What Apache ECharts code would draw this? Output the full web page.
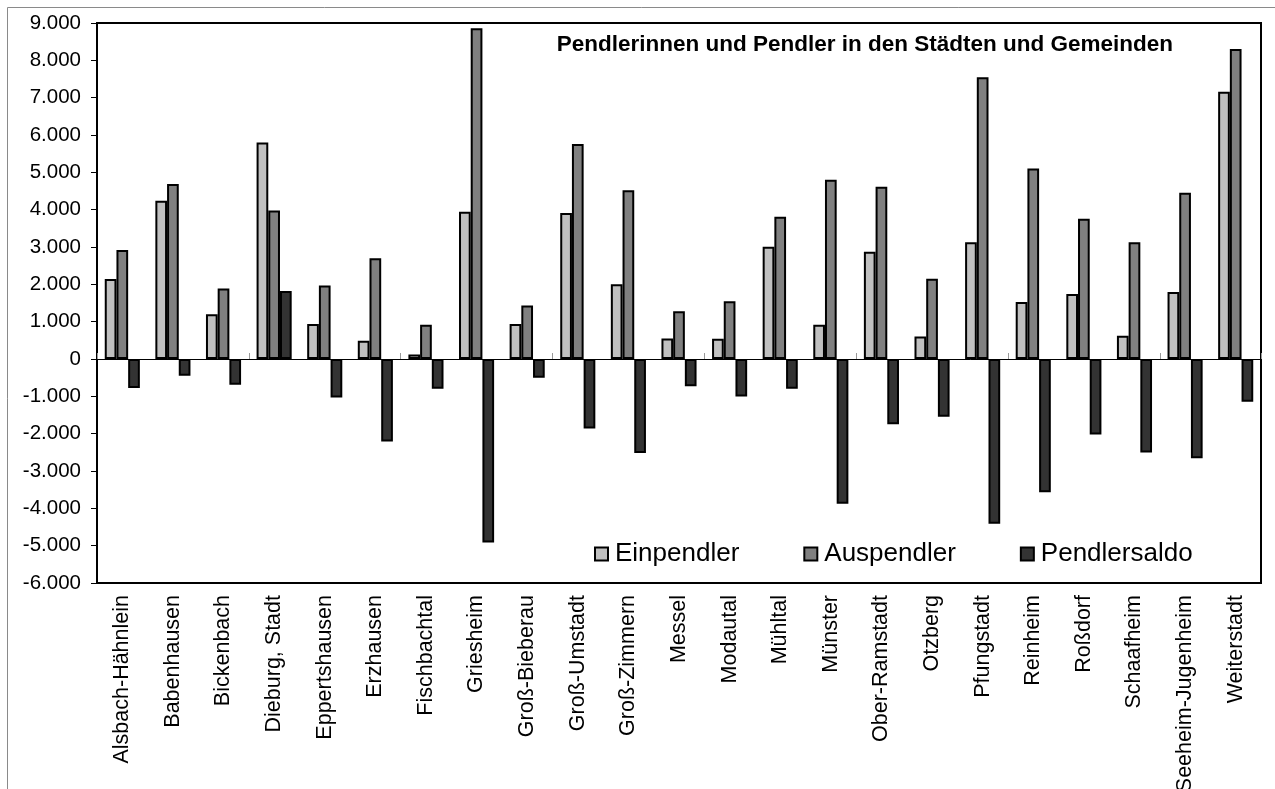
<!DOCTYPE html>
<html>
<head>
<meta charset="utf-8">
<script src="https://cdn.jsdelivr.net/npm/echarts@6/dist/echarts.min.js"></script>
<style>
html,body{margin:0;padding:0;background:#fff;}
#chart{width:1275px;height:789px;}
</style>
</head>
<body>
<div id="chart"></div>
<script>
var categories = ["Alsbach-Hähnlein","Babenhausen","Bickenbach","Dieburg, Stadt","Eppertshausen","Erzhausen","Fischbachtal","Griesheim","Groß-Bieberau","Groß-Umstadt","Groß-Zimmern","Messel","Modautal","Mühltal","Münster","Ober-Ramstadt","Otzberg","Pfungstadt","Reinheim","Roßdorf","Schaafheim","Seeheim-Jugenheim","Weiterstadt"];
var einpendler = [2140,4240,1200,5800,940,490,120,3945,940,3910,2000,550,545,3010,920,2870,600,3130,1530,1740,625,1795,7160];
var auspendler = [2920,4690,1890,3980,1970,2700,920,8860,1430,5760,4520,1280,1550,3810,4800,4615,2150,7545,5100,3760,3130,4455,8305];
var pendlersaldo = [-780,-450,-690,1820,-1030,-2210,-800,-4915,-500,-1860,-2520,-730,-1005,-800,-3880,-1745,-1550,-4415,-3570,-2020,-2505,-2660,-1145];
var seriesNames = ["Einpendler","Auspendler","Pendlersaldo"];
var titleText = "Pendlerinnen und Pendler in den Städten und Gemeinden";

function fmt(v){
  var s = String(Math.abs(v)).replace(/\B(?=(\d{3})+(?!\d))/g, '.');
  return (v < 0 ? '-' : '') + s;
}

var chart = echarts.init(document.getElementById('chart'), null, {renderer:'canvas'});
var font = 'Liberation Sans, Arial, sans-serif';
var barStyle = function(c){ return {color:c, borderColor:'#000', borderWidth:2}; };
chart.setOption({
  animation:false,
  backgroundColor:'#fff',
  textStyle:{fontFamily:font},
  title:{
    text:titleText, right:102, top:33, padding:0,
    textStyle:{fontFamily:font, fontWeight:'bold', fontSize:22.5, color:'#000'}
  },
  legend:{
    data:seriesNames, left:594, top:541, padding:0,
    itemWidth:13, itemHeight:13, itemGap:64, icon:'rect',
    itemStyle:{borderColor:'#000', borderWidth:2},
    textStyle:{fontFamily:font, fontSize:26, color:'#000', padding:[0,0,0,2]}
  },
  grid:{left:97, right:14, top:23, bottom:206, show:true, borderColor:'#000', borderWidth:2, backgroundColor:'transparent', containLabel:false, outerBoundsMode:'none'},
  graphic:[{
    type:'rect', silent:true, z:-1,
    shape:{x:7.5, y:7.5, width:1400, height:900},
    style:{fill:'none', stroke:'#8a8a8a', lineWidth:1}
  }],
  xAxis:[{
    type:'category', data:categories, position:'bottom',
    axisLine:{show:false, onZero:false}, axisTick:{show:false},
    axisLabel:{rotate:90, margin:12, fontSize:21.5, color:'#000', fontFamily:font, interval:0, hideOverlap:false}
  },{
    type:'category', data:categories, position:'bottom',
    axisLine:{show:true, onZero:true, lineStyle:{color:'#000', width:1}},
    axisTick:{show:true, inside:true, length:6, lineStyle:{color:'#999', width:1}},
    axisLabel:{show:false}
  }],
  yAxis:{
    type:'value', min:-6000, max:9000, interval:1000,
    axisLine:{show:false},
    axisTick:{show:true, length:6, lineStyle:{color:'#000', width:1}},
    splitLine:{show:false},
    axisLabel:{fontSize:20.5, color:'#000', fontFamily:font, margin:16, formatter:fmt}
  },
  series:[
    {name:seriesNames[0], type:'bar', xAxisIndex:0, data:einpendler, barWidth:11.7, barGap:'0%', itemStyle:barStyle('#c0c0c0')},
    {name:seriesNames[1], type:'bar', xAxisIndex:0, data:auspendler, barWidth:11.7, barGap:'0%', itemStyle:barStyle('#808080')},
    {name:seriesNames[2], type:'bar', xAxisIndex:0, data:pendlersaldo, barWidth:11.7, barGap:'0%', itemStyle:barStyle('#333333')}
  ]
});
</script>
</body>
</html>
